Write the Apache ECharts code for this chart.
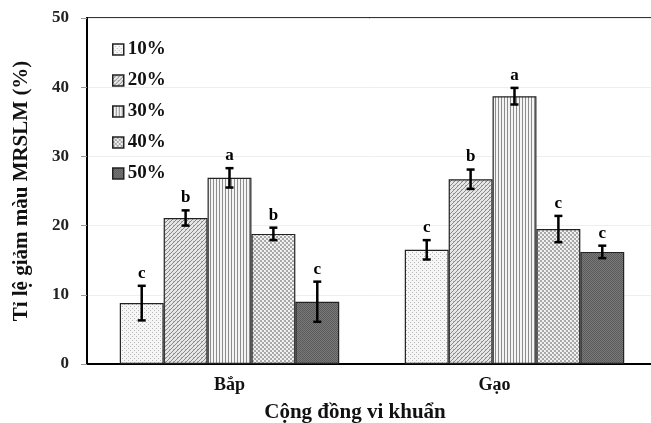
<!DOCTYPE html>
<html>
<head>
<meta charset="utf-8">
<script src="https://cdn.jsdelivr.net/npm/echarts@6/dist/echarts.min.js"></script>
<style>html,body{margin:0;padding:0;background:#fff;overflow:hidden}#c{width:651px;height:423px}</style>
</head>
<body>
<div id="c"></div>
<script>
var categories = ['Bắp', 'Gạo'];
var seriesNames = ['10%', '20%', '30%', '40%', '50%'];
var values = [
  [8.8, 16.5],
  [21.1, 26.7],
  [26.9, 38.7],
  [18.8, 19.5],
  [9.0, 16.2]
];
var errors = [
  [2.5, 1.4],
  [1.1, 1.4],
  [1.4, 1.2],
  [0.9, 1.9],
  [2.9, 0.9]
];
var letters = [
  ['c', 'c'],
  ['b', 'b'],
  ['a', 'a'],
  ['b', 'c'],
  ['c', 'c']
];
var yTicks = [0, 10, 20, 30, 40, 50];

var FONT = '"Liberation Serif", "DejaVu Serif", serif';
var BAR_FRAC = 0.154;

function makePattern(type) {
  var c = document.createElement('canvas');
  var ctx = c.getContext('2d');
  if (type === 0) {
    c.width = 4; c.height = 4;
    ctx.fillStyle = '#f6f6f6'; ctx.fillRect(0, 0, 4, 4);
    ctx.fillStyle = '#b8b8b8'; ctx.fillRect(0, 0, 1, 1); ctx.fillRect(2, 2, 1, 1);
  } else if (type === 1) {
    c.width = 4; c.height = 4;
    ctx.fillStyle = '#e6e6e6'; ctx.fillRect(0, 0, 4, 4);
    ctx.fillStyle = '#8a8a8a';
    for (var i = 0; i < 4; i++) { ctx.fillRect(3 - i, i, 1, 1); }
    ctx.fillStyle = '#b0b0b0';
    ctx.fillRect(1, 1, 1, 1);
  } else if (type === 2) {
    c.width = 3; c.height = 3;
    ctx.fillStyle = '#f4f4f4'; ctx.fillRect(0, 0, 3, 3);
    ctx.fillStyle = '#8c8c8c'; ctx.fillRect(0, 0, 1, 3);
  } else if (type === 3) {
    c.width = 4; c.height = 4;
    ctx.fillStyle = '#eeeeee'; ctx.fillRect(0, 0, 4, 4);
    ctx.fillStyle = '#a8a8a8';
    ctx.fillRect(0, 0, 2, 2); ctx.fillRect(2, 2, 2, 2);
    ctx.fillStyle = '#f8f8f8';
    ctx.fillRect(2, 0, 1, 1); ctx.fillRect(0, 2, 1, 1);
  } else {
    c.width = 2; c.height = 2;
    ctx.fillStyle = '#7a7a7a'; ctx.fillRect(0, 0, 2, 2);
    ctx.fillStyle = '#5a5a5a'; ctx.fillRect(0, 0, 1, 1); ctx.fillRect(1, 1, 1, 1);
  }
  return { image: c, repeat: 'repeat' };
}

var barSeries = seriesNames.map(function (name, i) {
  return {
    name: name,
    type: 'bar',
    barWidth: (BAR_FRAC * 100) + '%',
    barGap: '0%',
    data: values[i],
    itemStyle: { color: makePattern(i), borderColor: '#222', borderWidth: 1.2 },
    z: 2
  };
});

var errData = [];
for (var s = 0; s < seriesNames.length; s++) {
  for (var k = 0; k < categories.length; k++) {
    errData.push([k, s, values[s][k] - errors[s][k], values[s][k] + errors[s][k], letters[s][k]]);
  }
}

var errSeries = {
  type: 'custom',
  name: 'err',
  data: errData,
  z: 5,
  renderItem: function (params, api) {
    var cat = api.value(0), si = api.value(1);
    var bw = api.size([1, 0])[0] * BAR_FRAC;
    var cx = api.coord([cat, 0])[0] + (si - 2) * bw;
    var lo = api.coord([cat, api.value(2)])[1];
    var hi = api.coord([cat, api.value(3)])[1];
    var cap = 4;
    var st = { stroke: '#000', lineWidth: 2.5 };
    return {
      type: 'group',
      children: [
        { type: 'line', shape: { x1: cx, y1: lo, x2: cx, y2: hi }, style: st },
        { type: 'line', shape: { x1: cx - cap, y1: lo, x2: cx + cap, y2: lo }, style: st },
        { type: 'line', shape: { x1: cx - cap, y1: hi, x2: cx + cap, y2: hi }, style: st },
        { type: 'text', style: { text: errData[params.dataIndex][4], x: cx, y: hi - 4,
          textAlign: 'center', textVerticalAlign: 'bottom', fill: '#000',
          font: 'bold 17px ' + FONT } }
      ]
    };
  }
};

var chart = echarts.init(document.getElementById('c'));
chart.setOption({
  animation: false,
  backgroundColor: '#fff',
  grid: { left: 87, width: 570, top: 18, height: 346, containLabel: false, outerBoundsMode: 'none',
          show: true, borderColor: '#333', borderWidth: 2 },
  legend: {
    data: seriesNames,
    orient: 'vertical',
    left: 107,
    top: 35,
    icon: 'rect',
    itemWidth: 11,
    itemHeight: 11,
    itemGap: 12,
    itemStyle: { borderColor: '#222', borderWidth: 1.5 },
    textStyle: { fontFamily: FONT, fontWeight: 'bold', fontSize: 19, color: '#111', lineHeight: 19, padding: [0, 0, 0, -1] }
  },
  xAxis: {
    type: 'category',
    data: categories,
    axisLine: { lineStyle: { color: '#000', width: 2 } },
    axisTick: { show: false },
    axisLabel: {
      margin: 12,
      formatter: function (v, i) { return i === 1 ? '{g|' + v + '}' : '{b|' + v + '}'; },
      rich: {
        b: { fontFamily: FONT, fontWeight: 'bold', fontSize: 18, color: '#111' },
        g: { fontFamily: FONT, fontWeight: 'bold', fontSize: 18, color: '#111', padding: [0, 40, 0, 0] }
      }
    },
    name: 'Cộng đồng vi khuẩn',
    nameLocation: 'middle',
    nameGap: 38,
    nameTextStyle: { fontFamily: FONT, fontWeight: 'bold', fontSize: 21, color: '#111', padding: [0, 34, 0, 0] }
  },
  yAxis: {
    type: 'value',
    min: yTicks[0],
    max: yTicks[yTicks.length - 1],
    interval: 10,
    axisLine: { show: true, lineStyle: { color: '#000', width: 2 } },
    axisTick: { show: true, length: 6, lineStyle: { color: '#999', width: 1 } },
    splitLine: { lineStyle: { color: '#eeeeee', width: 1 } },
    axisLabel: { margin: 18, fontFamily: FONT, fontWeight: 'bold', fontSize: 17, color: '#222' },
    name: 'Tỉ lệ giảm màu MRSLM (%)',
    nameLocation: 'middle',
    nameGap: 55,
    nameTextStyle: { fontFamily: FONT, fontWeight: 'bold', fontSize: 21, color: '#111' }
  },
  series: barSeries.concat([errSeries])
});
</script>
</body>
</html>
